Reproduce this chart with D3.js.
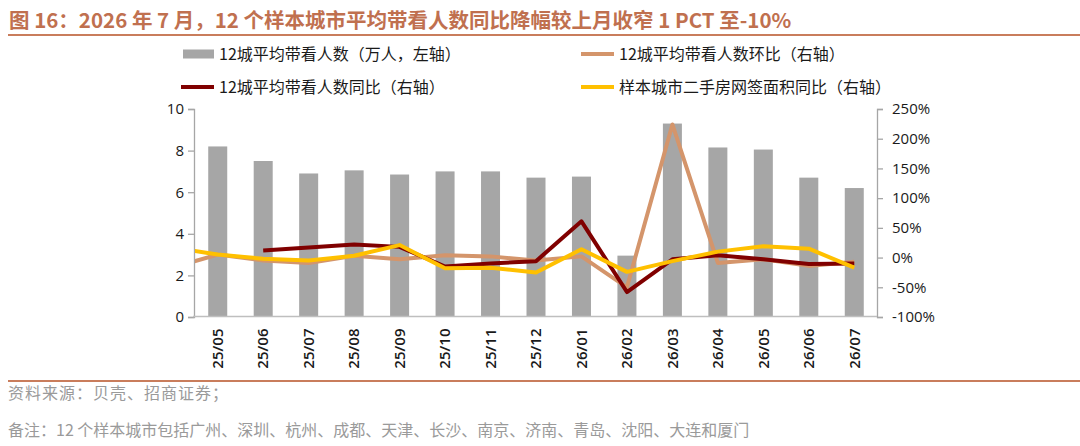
<!DOCTYPE html>
<html>
<head>
<meta charset="utf-8">
<script src="https://cdn.jsdelivr.net/npm/d3@7"></script>
<style>
  body { margin: 0; background: #fff; }
  svg { display: block; }
</style>
</head>
<body>
<svg id="chart"></svg>
<script>
// Data
const months = ["25/05","25/06","25/07","25/08","25/09","25/10","25/11","25/12","26/01","26/02","26/03","26/04","26/05","26/06","26/07"];
// lines start one month earlier (25/04), clipped at the plot edge like the original
const lineMonths = ["25/04"].concat(months);

const visits = [8.2, 7.5, 6.9, 7.05, 6.85, 7.0, 7.0, 6.7, 6.75, 2.95, 9.3, 8.15, 8.05, 6.7, 6.2];   // 万人, left axis
const visitsMoM = [-17, 5, -5, -9, 3, -3, 4, 2, -5, 2, -50, 224, -9, -3, -14, -7];                     // %, right axis
const visitsYoY = [null, null, 12, 17, 22, 18, -15, -10, -6, 61, -58, -3, 4, -3, -11, -10];           // %, right axis
const areaYoY = [17, 5, -2, -5, 3, 21, -18, -17, -25, 14, -24, -6, 10, 19, 15, -17];                  // %, right axis

const leftTicks = [0, 2, 4, 6, 8, 10];
const rightTicks = [-100, -50, 0, 50, 100, 150, 200, 250];

const titleText = "图 16：2026 年 7 月，12 个样本城市平均带看人数同比降幅较上月收窄 1 PCT 至-10%";
const sourceText = "资料来源：贝壳、招商证券；";
const noteText = "备注：12 个样本城市包括广州、深圳、杭州、成都、天津、长沙、南京、济南、青岛、沈阳、大连和厦门";

const series = [
  {name: "12城平均带看人数（万人，左轴）", type: "bar", color: "#a6a6a6"},
  {name: "12城平均带看人数环比（右轴）", type: "line", color: "#d4956b", values: visitsMoM},
  {name: "12城平均带看人数同比（右轴）", type: "line", color: "#800000", values: visitsYoY},
  {name: "样本城市二手房网签面积同比（右轴）", type: "line", color: "#ffc000", values: areaYoY}
];

const W = 1080, H = 446;
const svg = d3.select("#chart").attr("width", W).attr("height", H);
const cjk = "'Noto Sans CJK SC', 'Noto Sans', sans-serif";
const num = "'Open Sans', 'Liberation Sans', sans-serif";

// title + rules
svg.append("text")
  .attr("x", 9).attr("y", 28)
  .style("font-family", cjk)
  .style("font-size", "20.5px")
  .style("font-weight", "bold")
  .attr("fill", "#c0704f")
  .text(titleText);

svg.append("line").attr("x1", 8).attr("x2", W).attr("y1", 35).attr("y2", 35)
  .attr("stroke", "#c97d5c").attr("stroke-width", 2);
svg.append("line").attr("x1", 8).attr("x2", W).attr("y1", 381).attr("y2", 381)
  .attr("stroke", "#c97d5c").attr("stroke-width", 2);

svg.append("text").attr("x", 8).attr("y", 399)
  .style("font-family", cjk).style("font-size", "16px").attr("fill", "#9a9a9a")
  .style("letter-spacing", "1px")
  .text(sourceText);
svg.append("text").attr("x", 8).attr("y", 436)
  .style("font-family", cjk).style("font-size", "16px").attr("fill", "#9a9a9a")
  .text(noteText);

// plot area
const x0 = 195, x1 = 877, yTop = 109, yBot = 317;

const x = d3.scaleBand().domain(months).range([x0, x1]);
const xLine = d3.scaleBand().domain(lineMonths).range([x0 - x.step(), x1]);
const yL = d3.scaleLinear().domain([0, 10]).range([yBot, yTop]);
const yR = d3.scaleLinear().domain([-100, 250]).range([yBot, yTop]);

svg.append("defs").append("clipPath").attr("id", "plotClip")
  .append("rect").attr("x", x0).attr("y", yTop - 5).attr("width", x1 - x0).attr("height", yBot - yTop + 10);

// bars
const barW = 19;
svg.append("g").selectAll("rect")
  .data(months)
  .enter()
  .append("rect")
  .attr("x", (d, i) => x(d) + x.bandwidth() / 2 - barW / 2)
  .attr("y", (d, i) => yL(visits[i]))
  .attr("width", barW)
  .attr("height", (d, i) => yBot - yL(visits[i]))
  .attr("fill", series[0].color);

// axes
const axisColor = "#a6a6a6";
const gL = svg.append("g").attr("transform", `translate(${x0 - 1},0)`)
  .call(d3.axisLeft(yL).tickValues(leftTicks).tickSize(6).tickPadding(4).tickFormat(d3.format("d")));
const gR = svg.append("g").attr("transform", `translate(${x1},0)`)
  .call(d3.axisRight(yR).tickValues(rightTicks).tickSize(6).tickPadding(9).tickFormat(d => d + "%"));
[gL, gR].forEach(g => {
  g.select(".domain").attr("stroke", axisColor).attr("stroke-width", 1.3);
  g.selectAll(".tick line").attr("stroke", axisColor).attr("stroke-width", 1.3);
  g.selectAll("text").attr("fill", "#1a1a1a").style("font-family", num).style("font-size", "15px");
});

const gX = svg.append("g").attr("transform", `translate(0,${yBot - 0.5})`)
  .call(d3.axisBottom(x).tickSize(0).tickPadding(0));
gX.select(".domain").attr("stroke", "#bfbfbf").attr("stroke-width", 1.5)
  .attr("d", `M${x0 - 2},0H${x1}`);
gX.selectAll("text")
  .attr("transform", "translate(0,12) rotate(-90)")
  .attr("dy", "0.35em")
  .attr("x", 0).attr("y", 0)
  .style("text-anchor", "end")
  .attr("fill", "#1a1a1a")
  .style("font-family", num)
  .style("font-size", "15px")
  .style("font-weight", "600");

// lines
const plot = svg.append("g").attr("clip-path", "url(#plotClip)");
series.filter(s => s.type === "line").forEach(s => {
  const line = d3.line()
    .defined(d => d.v !== null)
    .x(d => xLine(d.m) + xLine.bandwidth() / 2)
    .y(d => yR(d.v));
  plot.append("path")
    .datum(lineMonths.map((m, i) => ({m: m, v: s.values[i]})))
    .attr("fill", "none")
    .attr("stroke", s.color)
    .attr("stroke-width", 4)
    .attr("stroke-linejoin", "round")
    .attr("d", line);
});

// legend
const legendPos = [[183, 54], [583, 54], [183, 87], [583, 87]];
const legendOrder = [0, 1, 2, 3];
legendOrder.forEach((k, j) => {
  const s = series[k];
  const [lx, ly] = legendPos[j];
  const g = svg.append("g");
  if (s.type === "bar") {
    g.append("rect").attr("x", lx).attr("y", ly - 4.5).attr("width", 31).attr("height", 9).attr("fill", s.color);
  } else {
    g.append("line").attr("x1", lx - 2).attr("x2", lx + 31).attr("y1", ly).attr("y2", ly)
      .attr("stroke", s.color).attr("stroke-width", 4);
  }
  g.append("text").attr("x", lx + 36).attr("y", ly).attr("dy", "0.35em")
    .style("font-family", cjk).style("font-size", "16px").attr("fill", "#1a1a1a")
    .text(s.name);
});
</script>
</body>
</html>
